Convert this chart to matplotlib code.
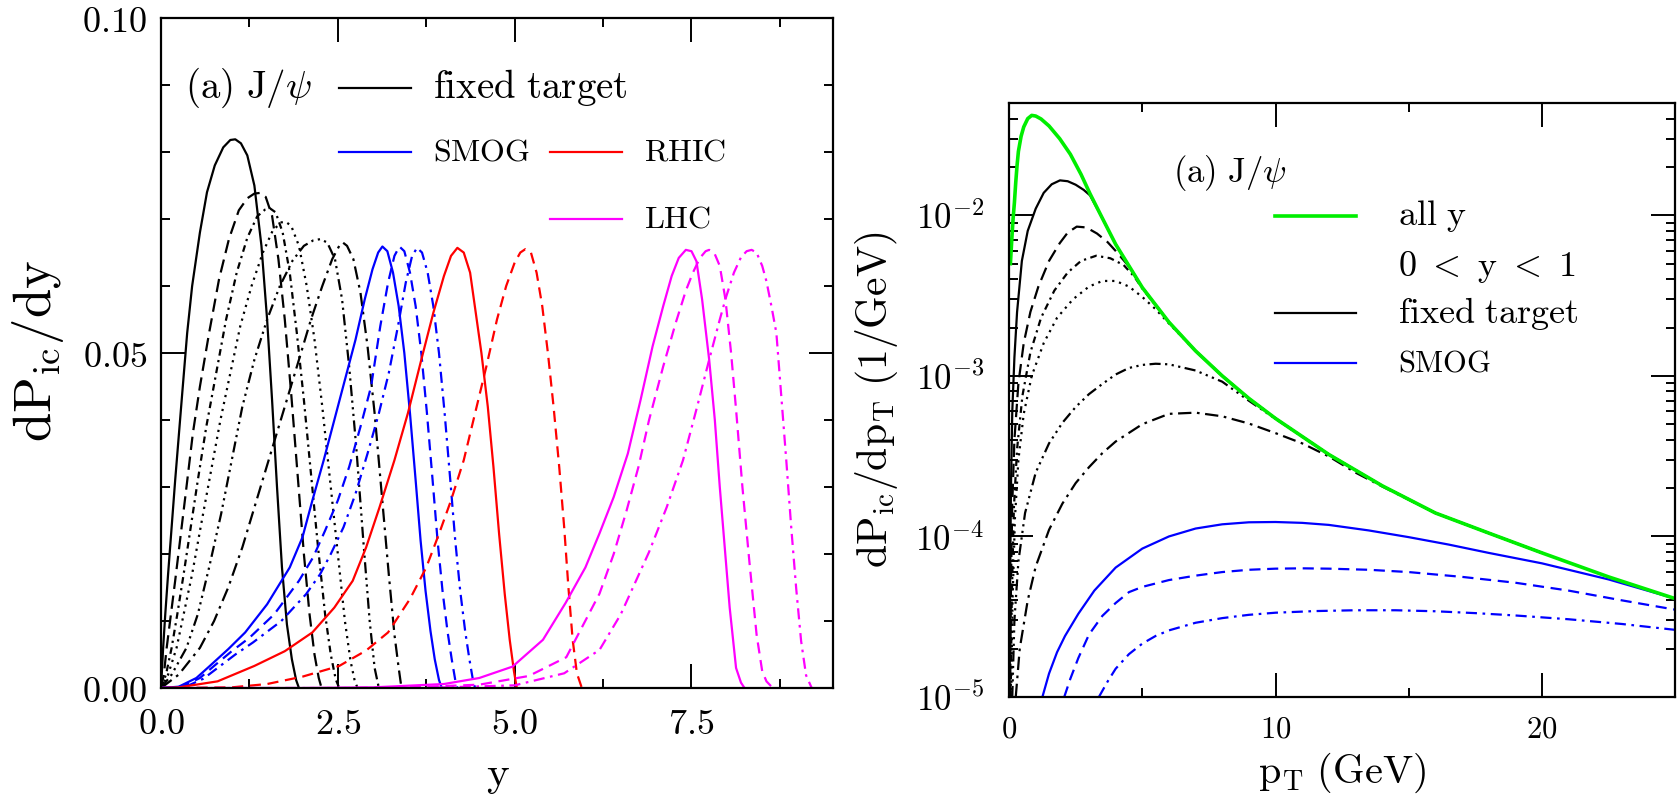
import matplotlib
matplotlib.use('Agg')
import matplotlib.pyplot as plt
from matplotlib.ticker import FixedLocator, FixedFormatter, NullFormatter

plt.rcParams['mathtext.fontset'] = 'cm'
plt.rcParams['font.family'] = ['DejaVu Serif']

# ---------------- left panel: dP_ic/dy vs y ----------------
# fixed target, six energies (black)
ft_rap = [
    [0, 0.03, 0.06, 0.10, 0.15, 0.20, 0.30, 0.37, 0.44, 0.55, 0.65, 0.76, 0.88, 0.98, 1.05, 1.13, 1.22, 1.32,
     1.42, 1.50, 1.57, 1.64, 1.71, 1.78, 1.85, 1.91, 1.95],
    [0, 0.04, 0.08, 0.14, 0.2, 0.28, 0.36, 0.45, 0.55, 0.68, 0.82, 0.96, 1.1, 1.22, 1.32, 1.40, 1.48, 1.57,
     1.66, 1.75, 1.84, 1.93, 2.02, 2.10, 2.17, 2.23, 2.27],
    [0, 0.07, 0.15, 0.23, 0.32, 0.42, 0.52, 0.64, 0.78, 0.92, 1.07, 1.22, 1.36, 1.47, 1.54, 1.62, 1.72, 1.82,
     1.92, 2.02, 2.12, 2.22, 2.32, 2.40, 2.47, 2.52],
    [0, 0.1, 0.22, 0.32, 0.44, 0.56, 0.70, 0.84, 0.98, 1.12, 1.28, 1.44, 1.58, 1.70, 1.76, 1.84, 1.95, 2.06,
     2.17, 2.28, 2.39, 2.50, 2.60, 2.68, 2.74, 2.78],
    [0, 0.15, 0.36, 0.52, 0.68, 0.85, 1.0, 1.15, 1.32, 1.5, 1.68, 1.86, 2.02, 2.15, 2.25, 2.35, 2.46, 2.56,
     2.66, 2.76, 2.86, 2.95, 3.02, 3.08],
    [0, 0.25, 0.55, 0.75, 0.95, 1.15, 1.35, 1.55, 1.75, 1.95, 2.12, 2.28, 2.42, 2.52, 2.57, 2.63, 2.72, 2.82,
     2.92, 3.02, 3.12, 3.22, 3.30, 3.36, 3.40],
]
ft_dpdy = [
    [0, 0.006, 0.011, 0.017, 0.024, 0.031, 0.044, 0.053, 0.060, 0.068, 0.074, 0.078, 0.0807, 0.0818, 0.0819,
     0.0813, 0.0795, 0.075, 0.066, 0.055, 0.043, 0.030, 0.018, 0.0095, 0.0043, 0.0012, 0],
    [0, 0.002, 0.006, 0.011, 0.016, 0.023, 0.030, 0.038, 0.045, 0.053, 0.061, 0.067, 0.0713, 0.0731, 0.0738,
     0.0739, 0.0733, 0.0705, 0.064, 0.055, 0.044, 0.032, 0.020, 0.011, 0.005, 0.0015, 0],
    [0, 0.002, 0.006, 0.011, 0.017, 0.024, 0.031, 0.039, 0.047, 0.055, 0.062, 0.0672, 0.0704, 0.0714, 0.0716,
     0.071, 0.068, 0.062, 0.053, 0.043, 0.032, 0.021, 0.011, 0.005, 0.0013, 0],
    [0, 0.002, 0.006, 0.011, 0.017, 0.024, 0.032, 0.040, 0.047, 0.054, 0.060, 0.065, 0.0683, 0.0695, 0.0696,
     0.069, 0.066, 0.060, 0.052, 0.042, 0.031, 0.020, 0.010, 0.004, 0.001, 0],
    [0, 0.002, 0.006, 0.011, 0.018, 0.026, 0.034, 0.042, 0.049, 0.055, 0.060, 0.0638, 0.0660, 0.0668, 0.067,
     0.0665, 0.064, 0.058, 0.048, 0.036, 0.022, 0.010, 0.003, 0],
    [0, 0.002, 0.006, 0.010, 0.015, 0.021, 0.028, 0.035, 0.042, 0.049, 0.055, 0.060, 0.0640, 0.0660, 0.0665,
     0.066, 0.064, 0.059, 0.051, 0.041, 0.029, 0.017, 0.008, 0.003, 0],
]
# SMOG (blue)
smog_rap = [
    [0, 0.25, 0.5, 0.69, 0.95, 1.19, 1.5, 1.82, 2.0, 2.14, 2.3, 2.45, 2.6, 2.75, 2.88, 2.99, 3.07, 3.13, 3.2,
     3.28, 3.36, 3.44, 3.52, 3.60, 3.67, 3.74, 3.81, 3.87, 3.93, 3.97],
    [0, 0.3, 0.55, 0.75, 1.0, 1.25, 1.6, 1.95, 2.15, 2.32, 2.5, 2.66, 2.82, 2.97, 3.1, 3.21, 3.30, 3.37, 3.44,
     3.52, 3.60, 3.68, 3.76, 3.84, 3.91, 3.98, 4.05, 4.11, 4.16, 4.19],
    [0, 0.35, 0.6, 0.8, 1.05, 1.3, 1.7, 2.05, 2.25, 2.4, 2.58, 2.75, 2.92, 3.08, 3.22, 3.35, 3.46, 3.55, 3.62,
     3.69, 3.77, 3.85, 3.93, 4.01, 4.09, 4.16, 4.23, 4.30, 4.36, 4.41, 4.44],
]
smog_dpdy = [
    [0, 0.0002, 0.0015, 0.0033, 0.0058, 0.0083, 0.0125, 0.018, 0.0225, 0.028, 0.034, 0.040, 0.046, 0.052, 0.058,
     0.0625, 0.0650, 0.0659, 0.0652, 0.062, 0.057, 0.050, 0.041, 0.031, 0.022, 0.0145, 0.0085, 0.0043, 0.0012, 0],
    [0, 0.0002, 0.0015, 0.0033, 0.0055, 0.0075, 0.011, 0.016, 0.0195, 0.0235, 0.028, 0.033, 0.039, 0.045, 0.054,
     0.0605, 0.0645, 0.0659, 0.0652, 0.062, 0.057, 0.050, 0.041, 0.031, 0.022, 0.0145, 0.0085, 0.0043, 0.0012, 0],
    [0, 0.0002, 0.0014, 0.003, 0.005, 0.0068, 0.010, 0.014, 0.017, 0.020, 0.024, 0.029, 0.035, 0.041, 0.047,
     0.054, 0.0605, 0.0645, 0.0657, 0.065, 0.062, 0.057, 0.050, 0.041, 0.031, 0.022, 0.0145, 0.0085, 0.0043,
     0.0012, 0],
]
# RHIC (red)
rhic_rap = [
    [0, 0.25, 0.8, 1.32, 1.75, 2.14, 2.45, 2.71, 2.9, 3.09, 3.30, 3.49, 3.68, 3.85, 4.0, 4.1, 4.19, 4.28, 4.37,
     4.45, 4.53, 4.62, 4.70, 4.78, 4.86, 4.93, 4.99, 5.03],
    [0, 1.0, 1.5, 2.0, 2.52, 2.9, 3.21, 3.52, 3.75, 3.93, 4.1, 4.28, 4.44, 4.6, 4.75, 4.88, 5.0, 5.08, 5.15,
     5.23, 5.31, 5.39, 5.47, 5.55, 5.63, 5.70, 5.76, 5.82, 5.88, 5.95],
]
rhic_dpdy = [
    [0, 0.0001, 0.001, 0.0033, 0.0055, 0.0083, 0.012, 0.016, 0.021, 0.027, 0.034, 0.041, 0.049, 0.056, 0.0615,
     0.0645, 0.0657, 0.065, 0.062, 0.056, 0.050, 0.042, 0.033, 0.023, 0.014, 0.0072, 0.0025, 0],
    [0, 0.0001, 0.0006, 0.0017, 0.0033, 0.0056, 0.0083, 0.0133, 0.018, 0.023, 0.028, 0.034, 0.041, 0.048, 0.055,
     0.060, 0.0635, 0.0650, 0.0655, 0.065, 0.062, 0.057, 0.050, 0.042, 0.033, 0.024, 0.015, 0.0072, 0.0022, 0],
]
# LHC (magenta)
lhc_rap = [
    [0, 2.0, 3.0, 4.0, 4.5, 4.97, 5.4, 5.72, 6.0, 6.2, 6.4, 6.6, 6.78, 6.95, 7.1, 7.22, 7.32, 7.42, 7.5, 7.57,
     7.65, 7.75, 7.83, 7.9, 7.97, 8.04, 8.13, 8.2, 8.25],
    [0, 2.5, 3.5, 4.5, 5.2, 5.73, 6.2, 6.4, 6.58, 6.75, 6.9, 7.1, 7.28, 7.42, 7.52, 7.62, 7.7, 7.75, 7.82, 7.9,
     7.98, 8.06, 8.13, 8.22, 8.32, 8.42, 8.5, 8.56, 8.65],
    [0, 3.0, 4.0, 5.0, 5.7, 6.2, 6.5, 6.9, 7.15, 7.38, 7.58, 7.75, 7.9, 7.99, 8.1, 8.2, 8.28, 8.35, 8.42, 8.5,
     8.56, 8.63, 8.7, 8.77, 8.84, 8.91, 8.98, 9.05, 9.12, 9.2],
]
lhc_dpdy = [
    [0, 0, 0.0001, 0.0006, 0.0015, 0.0032, 0.0072, 0.0127, 0.018, 0.0231, 0.0285, 0.035, 0.043, 0.051, 0.057,
     0.0615, 0.0642, 0.0654, 0.0652, 0.0637, 0.058, 0.049, 0.040, 0.030, 0.021, 0.012, 0.003, 0.0008, 0],
    [0, 0, 0.0001, 0.0005, 0.0018, 0.0046, 0.0141, 0.020, 0.0264, 0.033, 0.040, 0.048, 0.0546, 0.0593, 0.062,
     0.0642, 0.0652, 0.0654, 0.065, 0.063, 0.058, 0.050, 0.0416, 0.030, 0.0187, 0.008, 0.0025, 0.001, 0],
    [0, 0, 0.0001, 0.0004, 0.0022, 0.0057, 0.011, 0.0203, 0.027, 0.034, 0.042, 0.049, 0.055, 0.0584, 0.062,
     0.0643, 0.0652, 0.0654, 0.065, 0.063, 0.0607, 0.057, 0.053, 0.0435, 0.034, 0.024, 0.0149, 0.007, 0.0019, 0],
]

# ---------------- right panel: dP_ic/dpT vs pT ----------------
ally_pt = [0.05, 0.1, 0.15, 0.2, 0.25, 0.3, 0.35, 0.45, 0.55, 0.7, 0.85, 1.0, 1.2, 1.5, 1.9, 2.3, 2.7, 3.04,
           3.5, 4.0, 5.0, 6.0, 7.0, 8.0, 9.0, 10.0, 12.0, 14.0, 16.0, 18.0, 20.0, 22.5, 25.0]
ally_dpdpt = [5.0e-3, 7.0e-3, 9.5e-3, 1.2e-2, 1.6e-2, 2.05e-2, 2.5e-2, 3.1e-2, 3.55e-2, 4.0e-2, 4.19e-2,
              4.15e-2, 3.98e-2, 3.6e-2, 3.0e-2, 2.4e-2, 1.8e-2, 1.36e-2, 9.6e-3, 6.6e-3, 3.55e-3, 2.16e-3,
              1.43e-3, 1.0e-3, 7.24e-4, 5.43e-4, 3.24e-4, 2.07e-4, 1.40e-4, 1.05e-4, 7.9e-5, 5.6e-5, 4.1e-5]
ftpt_pt = [
    [0.02, 0.04, 0.07, 0.12, 0.2, 0.3, 0.48, 0.7, 1.0, 1.3, 1.6, 1.91, 2.2, 2.5, 2.8, 3.04, 3.5, 4.0, 5.0, 6.0,
     7.0, 8.0, 9.0, 10.0, 12.0, 14.0, 16.0, 18.0, 20.0],
    [0.04, 0.07, 0.12, 0.2, 0.35, 0.55, 0.8, 1.1, 1.5, 1.9, 2.2, 2.54, 2.9, 3.3, 3.7, 4.0, 4.5, 5.0, 6.0, 7.0,
     8.0, 9.0, 10.0, 12.0, 14.0, 16.0, 18.0, 20.0],
    [0.06, 0.1, 0.18, 0.3, 0.5, 0.8, 1.2, 1.7, 2.2, 2.7, 3.27, 3.8, 4.3, 4.7, 5.0, 6.0, 7.0, 8.0, 9.0, 10.0,
     12.0, 14.0, 16.0, 18.0, 20.0],
    [0.08, 0.13, 0.22, 0.35, 0.55, 0.85, 1.3, 1.8, 2.4, 3.0, 3.5, 4.0, 4.5, 5.0, 5.5, 6.0, 7.0, 8.0, 9.0, 10.0,
     12.0, 14.0, 16.0, 18.0, 20.0],
    [0.12, 0.2, 0.35, 0.6, 1.0, 1.5, 2.0, 2.5, 3.0, 3.5, 4.0, 4.5, 5.0, 5.5, 6.0, 7.0, 8.0, 9.0, 10.0, 12.0,
     14.0, 16.0, 18.0, 20.0],
    [0.25, 0.4, 0.7, 1.0, 1.5, 2.0, 2.5, 3.0, 3.5, 4.0, 5.0, 6.0, 7.0, 8.0, 9.0, 10.0, 11.0, 12.0, 13.0, 14.0,
     16.0, 18.0, 20.0],
]
ftpt_dpdpt = [
    [1e-5, 5e-5, 2e-4, 6e-4, 1.3e-3, 2.5e-3, 5.2e-3, 8.0e-3, 1.1e-2, 1.38e-2, 1.56e-2, 1.65e-2, 1.63e-2, 1.55e-2,
     1.44e-2, 1.33e-2, 9.6e-3, 6.6e-3, 3.55e-3, 2.16e-3, 1.43e-3, 1.0e-3, 7.24e-4, 5.43e-4, 3.24e-4, 2.07e-4,
     1.40e-4, 1.05e-4, 7.9e-5],
    [1e-5, 5e-5, 1.6e-4, 4e-4, 9e-4, 1.6e-3, 2.5e-3, 3.6e-3, 5.2e-3, 6.7e-3, 7.8e-3, 8.5e-3, 8.4e-3, 7.7e-3,
     6.8e-3, 6.0e-3, 4.8e-3, 3.55e-3, 2.16e-3, 1.43e-3, 1.0e-3, 7.24e-4, 5.43e-4, 3.24e-4, 2.07e-4, 1.40e-4,
     1.05e-4, 7.9e-5],
    [1e-5, 4e-5, 1.5e-4, 3.5e-4, 7.5e-4, 1.4e-3, 2.3e-3, 3.4e-3, 4.4e-3, 5.2e-3, 5.6e-3, 5.4e-3, 4.9e-3, 4.15e-3,
     3.5e-3, 2.16e-3, 1.43e-3, 1.0e-3, 7.24e-4, 5.43e-4, 3.24e-4, 2.07e-4, 1.40e-4, 1.05e-4, 7.9e-5],
    [1e-5, 4e-5, 1.3e-4, 3e-4, 5.8e-4, 1.0e-3, 1.6e-3, 2.3e-3, 3.0e-3, 3.6e-3, 3.9e-3, 3.9e-3, 3.6e-3, 3.1e-3,
     2.6e-3, 2.12e-3, 1.43e-3, 1.0e-3, 7.24e-4, 5.43e-4, 3.24e-4, 2.07e-4, 1.40e-4, 1.05e-4, 7.9e-5],
    [1e-5, 3e-5, 7e-5, 1.4e-4, 2.5e-4, 3.8e-4, 5.1e-4, 6.4e-4, 7.7e-4, 8.9e-4, 1.02e-3, 1.12e-3, 1.17e-3,
     1.19e-3, 1.18e-3, 1.08e-3, 9.2e-4, 7.0e-4, 5.4e-4, 3.24e-4, 2.07e-4, 1.40e-4, 1.05e-4, 7.9e-5],
    [1e-5, 2e-5, 4e-5, 6.5e-5, 1.1e-4, 1.6e-4, 2.15e-4, 2.7e-4, 3.3e-4, 3.9e-4, 5.0e-4, 5.8e-4, 5.9e-4, 5.6e-4,
     5.05e-4, 4.4e-4, 3.8e-4, 3.15e-4, 2.5e-4, 2.05e-4, 1.40e-4, 1.05e-4, 7.9e-5],
]
smogpt_pt = [
    [1.25, 1.5, 1.8, 2.1, 2.6, 3.2, 4.0, 5.0, 6.0, 7.0, 8.0, 9.0, 10.0, 11.0, 12.0, 13.5, 15.0, 16.5, 18.0, 20.0,
     22.5, 25.0],
    [2.07, 2.3, 2.6, 3.0, 3.5, 4.0, 4.5, 5.0, 6.0, 7.0, 8.0, 9.0, 10.0, 11.0, 12.0, 13.5, 15.0, 17.0, 19.0,
     21.0, 23.0, 25.0],
    [3.37, 3.7, 4.0, 4.5, 5.0, 5.5, 6.0, 7.0, 8.0, 9.0, 10.0, 11.5, 13.0, 14.5, 16.0, 17.5, 19.0, 21.0, 23.0,
     25.0],
]
smogpt_dpdpt = [
    [1e-5, 1.4e-5, 1.9e-5, 2.4e-5, 3.3e-5, 4.6e-5, 6.4e-5, 8.4e-5, 1.0e-4, 1.12e-4, 1.19e-4, 1.225e-4, 1.23e-4,
     1.215e-4, 1.18e-4, 1.09e-4, 9.9e-5, 8.9e-5, 7.9e-5, 6.8e-5, 5.4e-5, 4.1e-5],
    [1e-5, 1.3e-5, 1.75e-5, 2.45e-5, 3.2e-5, 3.85e-5, 4.5e-5, 4.85e-5, 5.35e-5, 5.7e-5, 6.0e-5, 6.2e-5, 6.3e-5,
     6.33e-5, 6.3e-5, 6.2e-5, 6.0e-5, 5.6e-5, 5.15e-5, 4.6e-5, 4.0e-5, 3.5e-5],
    [1e-5, 1.25e-5, 1.5e-5, 1.85e-5, 2.15e-5, 2.4e-5, 2.6e-5, 2.9e-5, 3.1e-5, 3.25e-5, 3.35e-5, 3.43e-5, 3.47e-5,
     3.47e-5, 3.42e-5, 3.33e-5, 3.22e-5, 3.05e-5, 2.85e-5, 2.62e-5],
]

rap_ticks = [0, 2.5, 5.0, 7.5]
rap_labels = ['0.0', '2.5', '5.0', '7.5']
dpdy_ticks = [0, 0.05, 0.10]
dpdy_labels = ['0.00', '0.05', '0.10']
pt_ticks = [0, 10, 20]
pt_labels = ['0', '10', '20']
dpdpt_ticks = [1e-5, 1e-4, 1e-3, 1e-2]
dpdpt_labels = ['-5', '-4', '-3', '-2']

# line styles per curve index within a group
styles = ['-', (0, (6, 3)), (0, (3, 2, 1, 2)), (0, (1, 2.2)),
          (0, (5, 2, 1, 2, 1, 2, 1, 2)), (0, (6, 2.5, 1.2, 2.5))]
smog_styles = ['-', (0, (5, 3)), (0, (5, 2.5, 1.2, 2.5))]
lw = 1.6
GREEN = '#00ee00'


def mt(s):
    return r'$\mathrm{' + s.replace(' ', r'\ ') + '}$'


def frame(ax):
    for sp in ax.spines.values():
        sp.set_linewidth(1.6)
    ax.tick_params(which='both', direction='in', top=True, right=True, width=1.4)
    ax.tick_params(which='major', length=17)
    ax.tick_params(which='minor', length=6.5)


fig = plt.figure(figsize=(16.79, 8.02), dpi=100)

# ---------- left ----------
ax1 = fig.add_axes([0.0959, 0.1421, 0.4002, 0.8354])
for i in range(6):
    ax1.plot(ft_rap[i], ft_dpdy[i], color='k', lw=lw, ls=styles[i])
for i in range(3):
    ax1.plot(smog_rap[i], smog_dpdy[i], color='#0000ff', lw=lw, ls=smog_styles[i])
for i in range(2):
    ax1.plot(rhic_rap[i], rhic_dpdy[i], color='#ff0000', lw=lw, ls=smog_styles[i])
for i in range(3):
    ax1.plot(lhc_rap[i], lhc_dpdy[i], color='#ff00ff', lw=lw, ls=smog_styles[i])
ax1.set_xlim(0, 9.5)
ax1.set_ylim(0, 0.10)
frame(ax1)
ax1.xaxis.set_major_locator(FixedLocator(rap_ticks))
ax1.xaxis.set_major_formatter(FixedFormatter([mt(s) for s in rap_labels]))
ax1.xaxis.set_minor_locator(FixedLocator([1.25, 3.75, 6.25, 8.75]))
ax1.yaxis.set_major_locator(FixedLocator(dpdy_ticks))
ax1.yaxis.set_major_formatter(FixedFormatter([mt(s) for s in dpdy_labels]))
ax1.yaxis.set_minor_locator(FixedLocator([0.01, 0.02, 0.03, 0.04, 0.06, 0.07, 0.08, 0.09]))
ax1.tick_params(axis='x', which='major', labelsize=26, pad=14)
ax1.tick_params(axis='y', which='major', labelsize=26, pad=10)

# legend (axes fraction layout)
ax1.text(0.036, 0.896, r'$\mathrm{(a)\ J/}\psi$', transform=ax1.transAxes, fontsize=28, va='center')
leg1 = [('fixed target', 'k', 0.265, 0.896, 28), ('SMOG', '#0000ff', 0.265, 0.80, 23),
        ('RHIC', '#ff0000', 0.579, 0.80, 23), ('LHC', '#ff00ff', 0.579, 0.70, 23)]
for name, c, x0, y0, fs in leg1:
    ax1.plot([x0, x0 + 0.107], [y0, y0], color=c, lw=lw, transform=ax1.transAxes)
    ax1.text(x0 + 0.14, y0, mt(name), transform=ax1.transAxes, fontsize=fs, va='center')

fig.text(0.0226, 0.562, r'$\mathrm{dP_{ic}/dy}$', rotation=90, ha='center', va='center', fontsize=38)
fig.text(0.2966, 0.020, mt('y'), ha='center', va='baseline', fontsize=31)

# ---------- right ----------
ax2 = fig.add_axes([0.6010, 0.1309, 0.3967, 0.7406])
for i in range(6):
    ax2.plot(ftpt_pt[i], ftpt_dpdpt[i], color='k', lw=lw, ls=styles[i])
for i in range(3):
    ax2.plot(smogpt_pt[i], smogpt_dpdpt[i], color='#0000ff', lw=lw, ls=smog_styles[i])
ax2.plot(ally_pt, ally_dpdpt, color=GREEN, lw=2.6)
ax2.set_yscale('log')
ax2.set_xlim(0, 25)
ax2.set_ylim(1e-5, 5e-2)
frame(ax2)
ax2.xaxis.set_major_locator(FixedLocator(pt_ticks))
ax2.xaxis.set_major_formatter(FixedFormatter([mt(s) for s in pt_labels]))
ax2.xaxis.set_minor_locator(FixedLocator([5, 15, 25]))
ax2.yaxis.set_major_locator(FixedLocator(dpdpt_ticks))
ax2.yaxis.set_major_formatter(FixedFormatter([r'$\mathrm{10^{' + s + '}}$' for s in dpdpt_labels]))
minors = [m * 10.0 ** e for e in range(-5, -1) for m in range(2, 10)]
ax2.yaxis.set_minor_locator(FixedLocator(minors))
ax2.yaxis.set_minor_formatter(NullFormatter())
ax2.tick_params(axis='x', which='major', labelsize=22, pad=12)
ax2.tick_params(axis='y', which='major', labelsize=25, pad=18)

ax2.text(0.246, 0.882, r'$\mathrm{(a)\ J/}\psi$', transform=ax2.transAxes, fontsize=25, va='center')
leg2 = [('all y', GREEN, 2.6, 0.810, 26), ('0 < y < 1', None, lw, 0.724, 26),
        ('fixed target', 'k', lw, 0.646, 26), ('SMOG', '#0000ff', lw, 0.562, 22)]
for name, c, w, y0, fs in leg2:
    if c is not None:
        ax2.plot([0.399, 0.521], [y0, y0], color=c, lw=w, transform=ax2.transAxes)
    ax2.text(0.584, y0, mt(name), transform=ax2.transAxes, fontsize=fs, va='center')

fig.text(0.522, 0.501, r'$\mathrm{dP_{ic}/dp_{T}\ (1/GeV)}$', rotation=90, ha='center', va='center', fontsize=30)
fig.text(0.7994, 0.0237, r'$\mathrm{p_{T}\ (GeV)}$', ha='center', va='baseline', fontsize=29)

fig.savefig('out.png', dpi=100, facecolor='white')
